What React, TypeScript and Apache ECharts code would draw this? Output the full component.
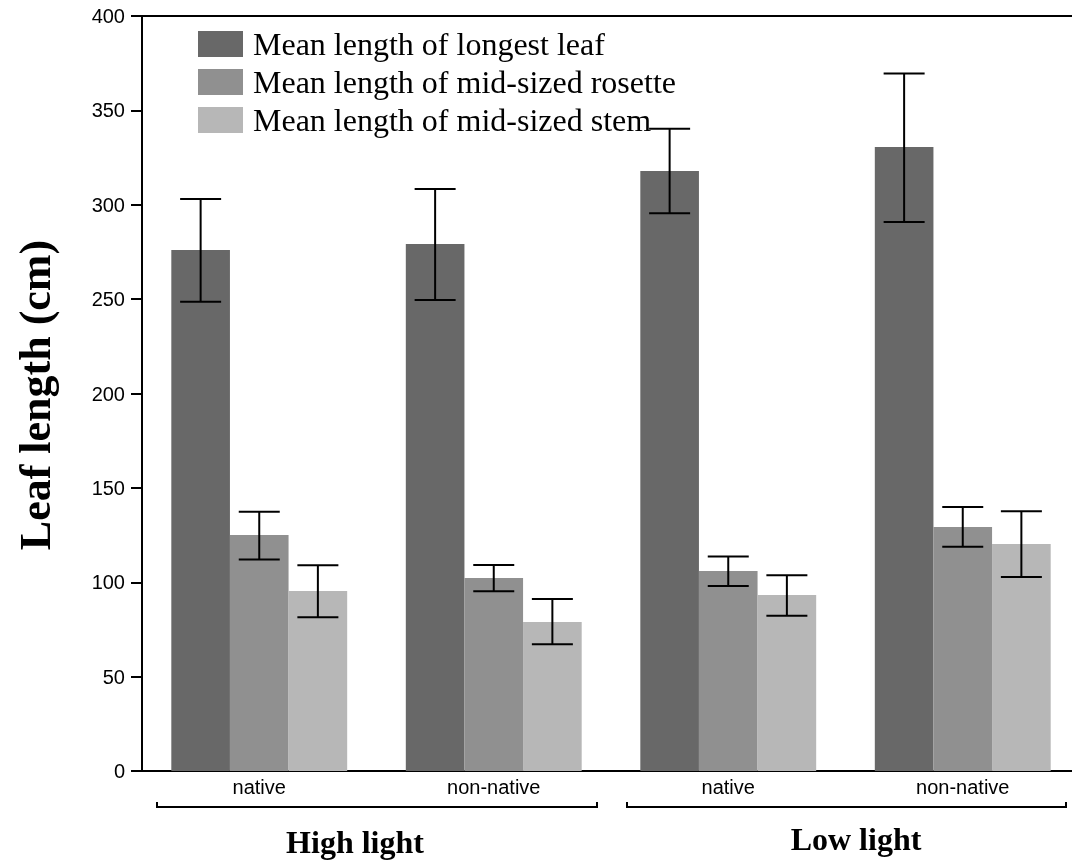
import React, { useEffect, useRef } from "react";
import * as echarts from "echarts";

const categories = ["native", "non-native", "native", "non-native"];
const seriesNames = [
  "Mean length of longest leaf",
  "Mean length of mid-sized rosette",
  "Mean length of mid-sized stem",
];
const longest = [276, 279.2, 317.9, 330.6];
const longestLow = [248.6, 249.5, 295.5, 290.9];
const longestHigh = [303, 308.3, 340.3, 369.6];
const rosette = [125, 102.3, 106, 129.3];
const rosetteLow = [112, 95.2, 98, 118.8];
const rosetteHigh = [137.4, 109.1, 113.7, 139.9];
const stem = [95.4, 78.9, 93.2, 120.3];
const stemLow = [81.4, 67.1, 82.3, 102.8];
const stemHigh = [109, 91.1, 103.7, 137.6];
const yTicks = [0, 50, 100, 150, 200, 250, 300, 350, 400];
const groupLabels = ["High light", "Low light"];

const colors = ["#686868", "#909090", "#b7b7b7"];
const CAT_GAP = 0.25;

export default function App() {
  const ref = useRef<HTMLDivElement>(null);
  useEffect(() => {
    if (!ref.current) return;
    const chart = echarts.init(ref.current, null, { renderer: "svg" });
    const values = [longest, rosette, stem];
    const lows = [longestLow, rosetteLow, stemLow];
    const highs = [longestHigh, rosetteHigh, stemHigh];

    const barSeries = values.map((v, i) => ({
      name: seriesNames[i],
      type: "bar",
      data: v,
      barGap: "0%",
      barCategoryGap: (CAT_GAP * 100).toFixed(1) + "%",
      itemStyle: { color: colors[i] },
      z: 2,
    }));

    const errSeries = values.map((_, k) => ({
      type: "custom",
      name: "err" + k,
      data: categories.map((_, c) => [c, lows[k][c], highs[k][c]]),
      encode: { x: 0, y: [1, 2] },
      z: 5,
      clip: false,
      renderItem: (params: any, api: any) => {
        const cat = api.value(0);
        const lo = api.coord([cat, api.value(1)]);
        const hi = api.coord([cat, api.value(2)]);
        const band = api.size([1, 0])[0];
        const bw = (band * (1 - CAT_GAP)) / 3;
        const x = lo[0] + (k - 1) * bw;
        const cap = 20.5;
        const style = { stroke: "#000", lineWidth: 2 };
        return {
          type: "group",
          children: [
            { type: "line", shape: { x1: x, y1: hi[1], x2: x, y2: lo[1] }, style },
            { type: "line", shape: { x1: x - cap, y1: hi[1], x2: x + cap, y2: hi[1] }, style },
            { type: "line", shape: { x1: x - cap, y1: lo[1], x2: x + cap, y2: lo[1] }, style },
          ],
        };
      },
    }));

    const serif = "'Liberation Serif', 'Times New Roman', serif";
    const sans = "'Liberation Sans', Arial, Helvetica, sans-serif";

    const option: any = {
      animation: false,
      grid: { left: 142, right: 0, top: 16, bottom: 92 },
      legend: {
        data: seriesNames,
        orient: "vertical",
        left: 198,
        top: 28,
        padding: 0,
        itemWidth: 45,
        itemHeight: 26,
        itemGap: 6,
        icon: "rect",
        textStyle: { fontFamily: serif, fontSize: 32, color: "#000", padding: [0, 0, 0, 5] },
        selectedMode: false,
      },
      xAxis: {
        type: "category",
        data: categories,
        axisLine: { lineStyle: { color: "#000", width: 2 } },
        axisTick: { show: false },
        axisLabel: { color: "#000", fontFamily: sans, fontSize: 20, margin: 6 },
      },
      yAxis: {
        type: "value",
        min: yTicks[0],
        max: yTicks[yTicks.length - 1],
        interval: 50,
        splitLine: { show: false },
        axisLine: { show: true, lineStyle: { color: "#000", width: 2 } },
        axisTick: { show: true, inside: false, length: 11, lineStyle: { color: "#000", width: 2 } },
        axisLabel: { color: "#000", fontFamily: sans, fontSize: 20, margin: 17 },
      },
      graphic: [
        { type: "line", shape: { x1: 142, y1: 16, x2: 1080, y2: 16 }, style: { stroke: "#000", lineWidth: 2 } },
        {
          type: "text",
          x: 35,
          y: 395,
          rotation: Math.PI / 2,
          style: { text: "Leaf length (cm)", font: "bold 44px " + serif, fill: "#000", align: "center", verticalAlign: "middle" },
        },
        { type: "polyline", shape: { points: [[157, 802], [157, 807], [597, 807], [597, 802]] }, style: { stroke: "#000", lineWidth: 2, fill: null } },
        { type: "polyline", shape: { points: [[627, 802], [627, 807], [1066, 807], [1066, 802]] }, style: { stroke: "#000", lineWidth: 2, fill: null } },
        {
          type: "text",
          x: 355,
          y: 842,
          style: { text: groupLabels[0], font: "bold 32px " + serif, fill: "#000", align: "center", verticalAlign: "middle" },
        },
        {
          type: "text",
          x: 856,
          y: 839,
          style: { text: groupLabels[1], font: "bold 32px " + serif, fill: "#000", align: "center", verticalAlign: "middle" },
        },
      ],
      series: [...barSeries, ...errSeries],
    };
    chart.setOption(option);
    return () => chart.dispose();
  }, []);
  return (
    <div style={{ position: "fixed", left: 0, top: 0, width: 1072, height: 863, overflow: "hidden" }}>
      <div ref={ref} style={{ width: 1080, height: 863 }} />
    </div>
  );
}
